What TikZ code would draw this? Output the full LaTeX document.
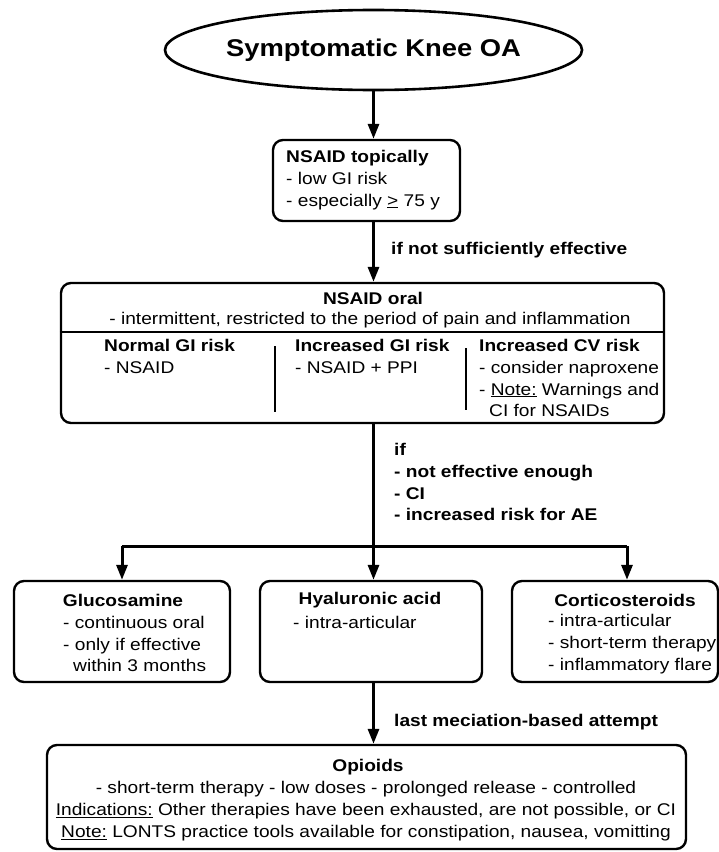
\documentclass[tikz,border=0pt]{standalone}
\usepackage{fontspec}
\setmainfont{Liberation Sans}[FakeStretch=1.13]
\usetikzlibrary{arrows.meta,shapes.geometric}

\tikzset{
  box/.style={draw, line width=2.4bp, rounded corners=10bp, inner sep=0pt},
  txt/.style={inner sep=0pt, align=left, font=\fontsize{17}{22}\selectfont},
  headtxt/.style={inner sep=0pt, align=left, font=\fontsize{17}{22}\selectfont\bfseries},
  arr/.style={line width=3bp, -{Triangle[length=15bp,width=11bp]}},
  link/.style={line width=3bp},
  rule/.style={line width=1.3bp},
}

\begin{document}
\begin{tikzpicture}[x=1bp,y=-1bp]
  \useasboundingbox (0,0) rectangle (719,852);

  % start
  \node[draw, ellipse, line width=2.6bp, minimum width=401bp, minimum height=80bp, inner sep=0pt,
        font=\fontsize{24.3}{26}\selectfont\bfseries] (knee) at (373.5,50) {Symptomatic Knee OA};

  % topical
  \node[box, minimum width=187bp, minimum height=81bp] (topical) at (366.5,180.5) {};
  \node[txt, anchor=west] (topicalT) at (286,180)
    {\textbf{NSAID topically}\\- low GI risk\\- especially \underline{>} 75 y};

  % oral
  \node[box, minimum width=603bp, minimum height=140bp] (oral) at (362.5,353) {};
  \node[headtxt] (oralH) at (373,298) {NSAID oral};
  \node[txt] (oralS) at (370,320) {- intermittent, restricted to the period of pain and inflammation};
  \draw[rule] (oral.west |- 0,332) -- (oral.east |- 0,332);
  \draw[rule] (275,346) -- (275,412);
  \draw[rule] (466,348) -- (466,410);
  \node[txt, anchor=west] (normal) at (104,356) {\textbf{Normal GI risk}\\- NSAID};
  \node[txt, anchor=west] (incgi) at (295,356) {\textbf{Increased GI risk}\\- NSAID + PPI};
  \node[txt, anchor=west] (inccv) at (479,378)
    {\textbf{Increased CV risk}\\- consider naproxene\\- \underline{Note:} Warnings and\\\hspace*{10bp}CI for NSAIDs};

  % second line options
  \node[box, minimum width=216bp, minimum height=101bp] (gluc) at (122,631.5) {};
  \node[headtxt] (glucH) at (123,600) {Glucosamine};
  \node[txt, anchor=west] (glucT) at (63,644)
    {- continuous oral\\- only if effective\\\hspace*{10bp}within 3 months};

  \node[box, minimum width=222bp, minimum height=101bp] (hyal) at (371,631.5) {};
  \node[headtxt] (hyalH) at (370,600) {Hyaluronic acid};
  \node[txt, anchor=west] (hyalT) at (293,622) {- intra-articular};

  \node[box, minimum width=206bp, minimum height=101bp] (cort) at (615,631.5) {};
  \node[headtxt] (cortH) at (625,600) {Corticosteroids};
  \node[txt, anchor=west] (cortT) at (548,644)
    {- intra-articular\\- short-term therapy\\- inflammatory flare};

  % last step
  \node[box, minimum width=639bp, minimum height=104bp] (opioid) at (366.5,797) {};
  \node[headtxt] (opioidH) at (368,767) {Opioids};
  \node[txt, align=center] (opioidT) at (366,811)
    {- short-term therapy - low doses - prolonged release - controlled\\
     \underline{Indications:} Other therapies have been exhausted, are not possible, or CI\\
     \underline{Note:} LONTS practice tools available for constipation, nausea, vomitting};

  % connectors
  \coordinate (split) at (373,546);
  \coordinate (cortin) at ([xshift=12bp]cort.north);
  \draw[arr] (knee.south) -- (knee.south |- topical.north);
  \draw[arr] (topical.south -| knee.south) -- (knee.south |- oral.north);
  \draw[arr] (oral.south -| knee.south) -- (knee.south |- hyal.north);
  \draw[link] (gluc.north |- split) -- (split -| cortin);
  \draw[arr] (gluc.north |- split) -- (gluc.north);
  \draw[arr] (split -| cortin) -- (cortin);
  \draw[arr] (hyal.south -| knee.south) -- (knee.south |- opioid.north);

  % labels
  \node[headtxt, anchor=west] (lbl1) at (391,250) {if not sufficiently effective};
  \node[headtxt, anchor=west] (lbl2) at (394,482)
    {if\\- not effective enough\\- CI\\- increased risk for AE};
  \node[headtxt, anchor=west] (lbl3) at (394,722) {last meciation-based attempt};
\end{tikzpicture}
\end{document}
